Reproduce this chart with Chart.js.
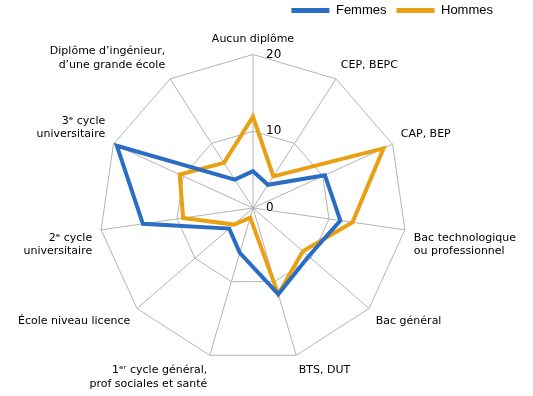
<!DOCTYPE html>
<html lang="fr">
  <head>
    <meta charset="UTF-8" />
    <title>Diplômes - Femmes / Hommes</title>
    <script src="https://cdn.jsdelivr.net/npm/chart.js@4/dist/chart.umd.min.js"></script>
    <style>
      body {
        margin: 0;
        background-color: #fff;
      }

      #chartBox {
        width: 533px;
        height: 396px;
      }
    </style>
  </head>
  <body>
    <div id="chartBox"><canvas id="radar"></canvas></div>
    <script>
      const categories = [
        'Aucun diplôme',
        'CEP, BEPC',
        'CAP, BEP',
        ['Bac technologique', 'ou professionnel'],
        'Bac général',
        'BTS, DUT',
        ['1ᵉʳ cycle général,', 'prof sociales et santé'],
        'École niveau licence',
        ['2ᵉ cycle', 'universitaire'],
        ['3ᵉ cycle', 'universitaire'],
        ['Diplôme d’ingénieur,', 'd’une grande école']
      ]
      const femmes = [4.8, 3.6, 10.3, 11.5, 9.6, 11.7, 6.1, 4.1, 14.5, 19.5, 4.4]
      const hommes = [11.9, 4.9, 18.7, 13.1, 8.6, 11.7, 1.3, 3.3, 9.2, 10.5, 7.0]
      const tickValues = [0, 10, 20]

      const blue = '#2b6cc4'
      const orange = '#e9a012'
      const gridGrey = '#b3b3b3'

      // tick labels sit to the right of the vertical axis, not on it
      const tickLabelPlugin = {
        id: 'tickLabels',
        afterDraw(chart) {
          const scale = chart.scales.r
          const ctx = chart.ctx
          ctx.save()
          ctx.font = '12px "DejaVu Sans"'
          ctx.fillStyle = '#000'
          ctx.textAlign = 'left'
          ctx.textBaseline = 'middle'
          tickValues.forEach(v => {
            const p = scale.getPointPositionForValue(0, v)
            ctx.fillText(String(v), p.x + 13, p.y)
          })
          ctx.restore()
        }
      }

      // nudge the legend a bit in from the right edge
      const legendShift = {
        id: 'legendShift',
        afterLayout(chart) {
          const lg = chart.legend
          lg.left -= 29
          lg.right -= 29
        }
      }

      new Chart(document.getElementById('radar'), {
        type: 'radar',
        data: {
          labels: categories,
          datasets: [
            {
              label: 'Femmes',
              data: femmes,
              borderColor: blue,
              backgroundColor: blue,
              borderWidth: 4,
              fill: false,
              pointRadius: 0,
              tension: 0
            },
            {
              label: 'Hommes',
              data: hommes,
              borderColor: orange,
              backgroundColor: orange,
              borderWidth: 4,
              fill: false,
              pointRadius: 0,
              tension: 0
            }
          ]
        },
        options: {
          responsive: true,
          maintainAspectRatio: false,
          animation: false,
          layout: { padding: { top: -6, left: 7, right: 1, bottom: 0 } },
          plugins: {
            tooltip: { enabled: false },
            legend: {
              position: 'top',
              align: 'end',
              labels: {
                boxWidth: 38,
                boxHeight: 5,
                padding: 10,
                color: '#000',
                font: { family: '"Liberation Sans", Arial', size: 13 },
                generateLabels: chart =>
                  chart.data.datasets.map((ds, i) => ({
                    text: ds.label,
                    fillStyle: ds.borderColor,
                    strokeStyle: ds.borderColor,
                    lineWidth: 0,
                    datasetIndex: i,
                    hidden: false
                  }))
              }
            }
          },
          scales: {
            r: {
              min: 0,
              max: 20,
              ticks: { stepSize: 10, display: false },
              grid: { color: gridGrey, lineWidth: 1 },
              angleLines: { color: gridGrey, lineWidth: 1 },
              pointLabels: {
                color: '#000',
                padding: 9,
                font: { family: '"DejaVu Sans"', size: 11 }
              }
            }
          }
        },
        plugins: [tickLabelPlugin, legendShift]
      })
    </script>
  </body>
</html>
